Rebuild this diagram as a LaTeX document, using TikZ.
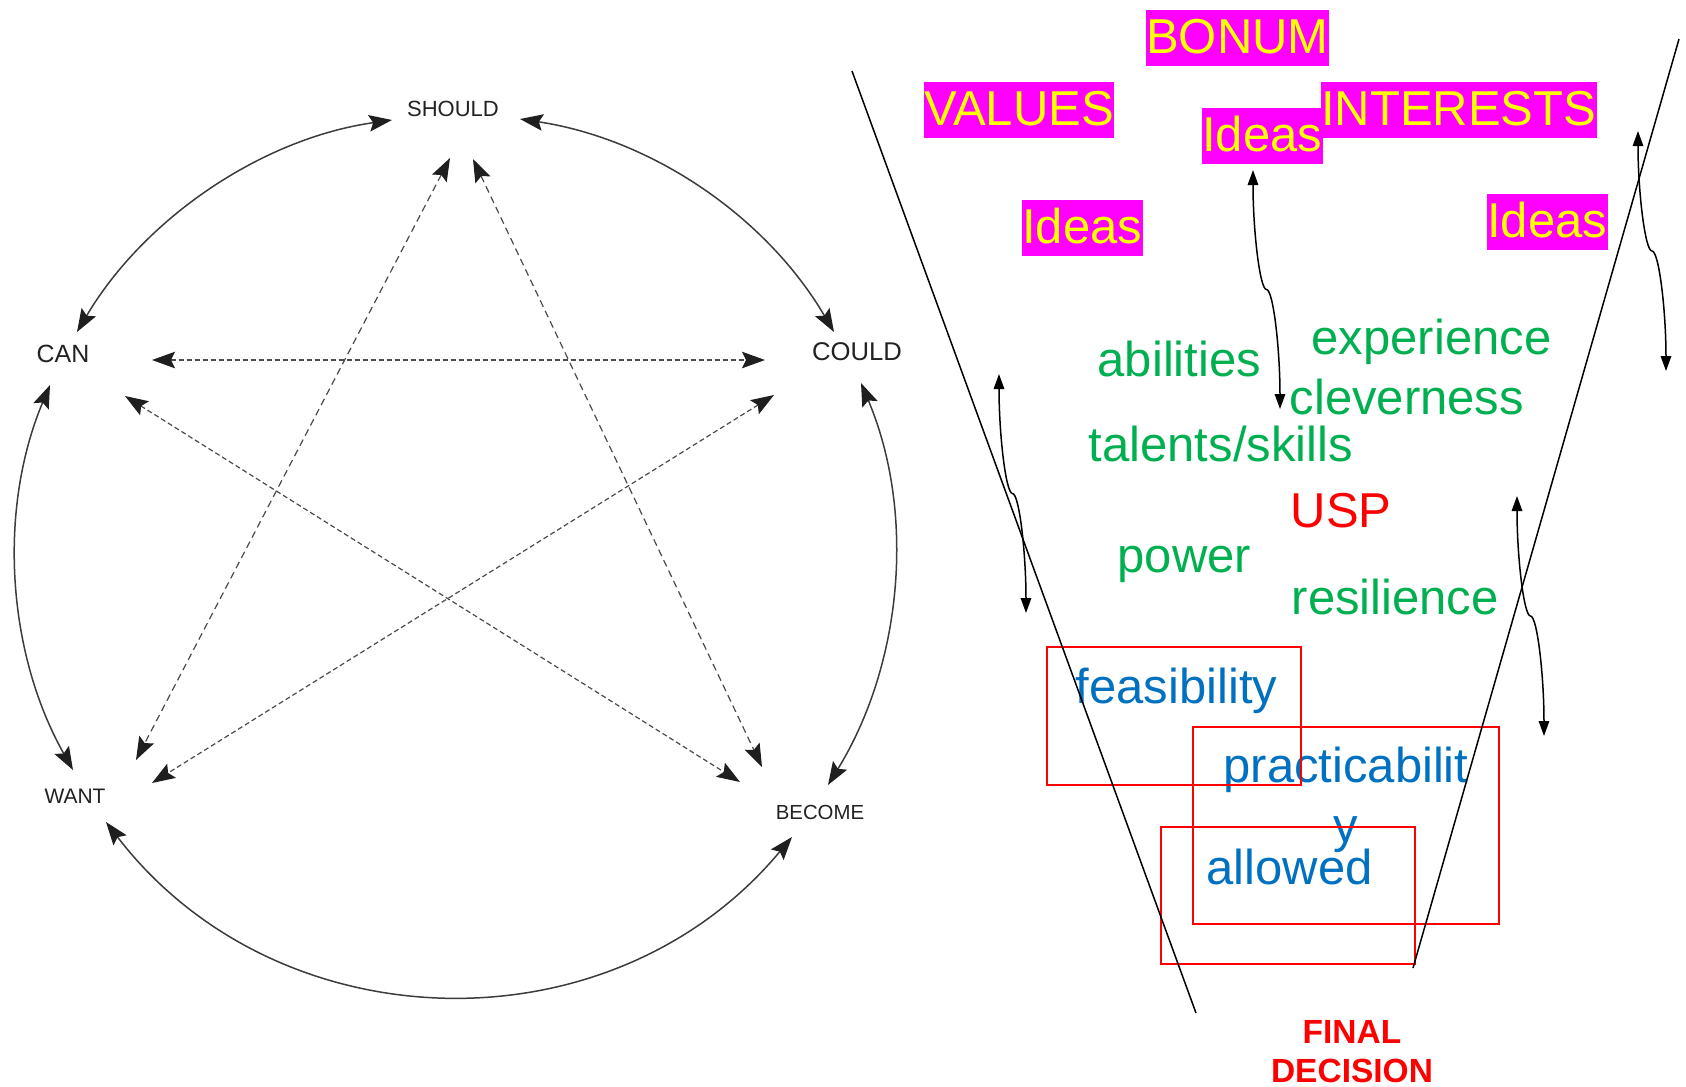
\documentclass[tikz,border=0pt]{standalone}
\usepackage{fontspec}
\setmainfont{Liberation Sans}
\usetikzlibrary{arrows.meta,calc}

\definecolor{lblgray}{HTML}{222222}
\definecolor{arcgray}{HTML}{3C3C3C}
\definecolor{dashgray}{HTML}{4A4A4A}
\definecolor{pgreen}{HTML}{00B050}
\definecolor{pblue}{HTML}{0070C0}
\definecolor{pred}{HTML}{FF0000}
\definecolor{pmag}{HTML}{FF00FF}
\definecolor{pyel}{HTML}{FFFF00}

\newcommand\bigtxt{\fontsize{13.94pt}{16.8pt}\selectfont}

% S-shaped double-headed connector between two named points (upper, lower)
\newcommand\sconnector[2]{%
  \draw[sconn] let \p1=(#1), \p2=(#2) in
    (#1) .. controls (\x1, {\y1+(\y2-\y1)/4}) and ({\x1+(\x2-\x1)/4}, {(\y1+\y2)/2})
         .. ({(\x1+\x2)/2}, {(\y1+\y2)/2})
         .. controls ({\x1+3*(\x2-\x1)/4}, {(\y1+\y2)/2}) and (\x2, {\y1+3*(\y2-\y1)/4})
         .. (#2);}

\begin{document}
\begin{tikzpicture}[x=0.1mm, y=0.1mm,
  lbl/.style={text=lblgray, inner sep=0, anchor=center},
  ringarc/.style={draw=arcgray, line width=0.15mm,
    >={Stealth[length=2.3mm, width=1.65mm, inset=0.4mm, color=black!88]}, <->},
  dashA/.style={draw=dashgray, line width=0.12mm, dash pattern=on 0.5mm off 0.3mm,
    >={Stealth[length=2.3mm, width=1.65mm, inset=0.4mm, color=black!88]}, <->},
  dashB/.style={draw=dashgray, line width=0.12mm, dash pattern=on 0.7mm off 0.45mm,
    >={Stealth[length=2.3mm, width=1.65mm, inset=0.4mm, color=black!88]}, <->},
  magbox/.style={fill=pmag, text=pyel, font=\bigtxt, inner xsep=0.05mm, inner ysep=0,
    text height=4.4mm, text depth=1.18mm, anchor=north west},
  gtxt/.style={text=pgreen, font=\bigtxt, inner sep=0, anchor=base west},
  btxt/.style={text=pblue, font=\bigtxt, inner sep=0, anchor=base west},
  funnel/.style={draw=black, line width=0.15mm},
  redbox/.style={draw=pred, line width=0.17mm},
  sconn/.style={draw=black, line width=0.15mm,
    >={Triangle[length=1.5mm, width=1.05mm]}, <->}
]
\useasboundingbox (0,0) rectangle (1686,-1086);

% ---------- the five modal verbs ----------
\node[lbl, font=\fontsize{6.26pt}{7pt}\selectfont] (should) at (453,-109) {SHOULD};
\node[lbl, font=\fontsize{7.1pt}{8pt}\selectfont]  (can)    at (63,-354)  {CAN};
\node[lbl, font=\fontsize{7.3pt}{8pt}\selectfont]  (could)  at (857,-352) {COULD};
\node[lbl, font=\fontsize{5.97pt}{7pt}\selectfont] (want)   at (75,-796)  {WANT};
\node[lbl, font=\fontsize{5.8pt}{7pt}\selectfont]  (become) at (820,-812) {BECOME};

% outer ring of arcs
\draw[ringarc] ($(should)+(-61,-11)$) to[out=188.1, in=59.4, looseness=0.89] ($(can)+(14,22)$);
\draw[ringarc] ($(could)+(-23,20)$) to[out=120.4, in=-8.6, looseness=0.9] ($(should)+(67,-10)$);
\draw[ringarc] ($(become)+(8,27)$) to[out=58.4, in=-67.1, looseness=0.9] ($(could)+(4,-31)$);
\draw[ringarc] ($(can)+(-13,-31)$) to[out=247.2, in=119.4, looseness=0.895] ($(want)+(-2,26)$);
\draw[ringarc] ($(want)+(31,-26)$) to[out=307.5, in=230.2, looseness=1.05] ($(become)+(-28,-25)$);

% inner star of dashed links
\draw[dashA] ($(can)+(89,-6)$) -- ($(could)+(-92,-8)$);
\draw[dashA] ($(can)+(62,-42)$) -- ($(become)+(-80,30)$);
\draw[dashA] ($(could)+(-83,-43)$) -- ($(want)+(77,13)$);
\draw[dashB] ($(should)+(-3,-49)$) -- ($(want)+(61,36)$);
\draw[dashB] ($(should)+(20,-50)$) -- ($(become)+(-58,45)$);

% ---------- funnel ----------
\node[magbox] (bonum)     at (1145,-9)   {BONUM};
\node[magbox] (values)    at (923,-81)   {VALUES};
\node[magbox] (interests) at (1320,-81)  {INTERESTS};
\node[magbox] (ideasc)    at (1201,-107) {Ideas};
\node[magbox] (ideasl)    at (1021,-199) {Ideas};
\node[magbox] (ideasr)    at (1486,-193) {Ideas};

\node[gtxt] (abilities)  at (1097,-376) {abilities};
\node[gtxt] (experience) at (1311,-354) {experience};
\node[gtxt] (cleverness) at (1289,-414) {cleverness};
\node[gtxt] (talents)    at (1088,-461) {talents/skills};
\node[gtxt, text=pred] (usp) at (1290,-527) {USP};
\node[gtxt] (power)      at (1117,-572) {power};
\node[gtxt] (resilience) at (1291,-614) {resilience};

\node[btxt] (feasibility) at (1075,-703) {feasibility};
% the base anchor of a two-line node sits on its last line
\node[text=pblue, font=\bigtxt, inner sep=0, anchor=base, align=center]
  (practicability) at (1346,-842) {practicabilit\\y};
\node[btxt] (allowed) at (1206,-884) {allowed};

\draw[redbox] (1047,-647) rectangle (1301,-785);
\draw[redbox] (1193,-727) rectangle (1499,-924);
\draw[redbox] (1161,-827) rectangle (1415,-964);

\coordinate (fl1) at (852,-71);
\coordinate (fl2) at (1196,-1013);
\coordinate (fr1) at (1679,-39);
\coordinate (fr2) at (1413,-968);
\draw[funnel] (fl1) -- (fl2);
\draw[funnel] (fr1) -- (fr2);

\node[text=pred, font=\bfseries\fontsize{9.53pt}{11.1pt}\selectfont, inner sep=0,
  anchor=base, align=center] (final) at (1352,-1082) {FINAL\\DECISION};

% curved double arrows
\coordinate (sa1) at (1253,-170);
\coordinate (sa2) at (1280,-409);
\coordinate (sb1) at (1638,-131);
\coordinate (sb2) at (1666,-371);
\coordinate (sc1) at (999,-374);
\coordinate (sc2) at (1026,-613);
\coordinate (sd1) at (1517,-496);
\coordinate (sd2) at (1544,-736);
\sconnector{sa1}{sa2}
\sconnector{sb1}{sb2}
\sconnector{sc1}{sc2}
\sconnector{sd1}{sd2}
\end{tikzpicture}
\end{document}
